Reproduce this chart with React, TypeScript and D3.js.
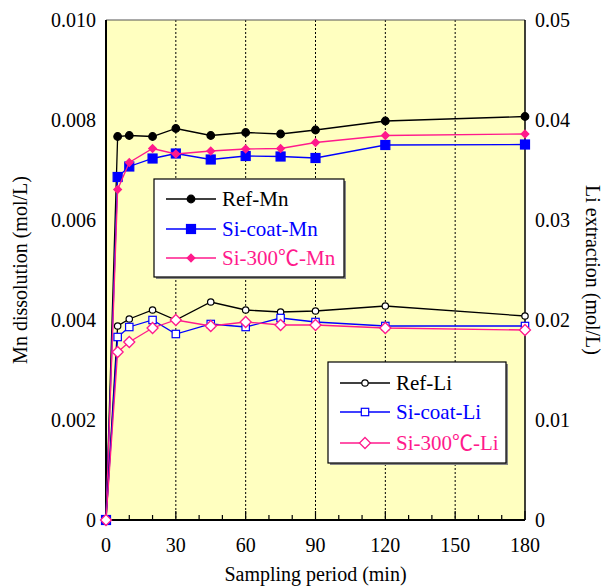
import React, { useEffect, useRef } from "react";
import * as d3 from "d3";

// sampling times (min)
const times = [0, 5, 10, 20, 30, 45, 60, 75, 90, 120, 180];

// Mn dissolution (mol/L), left axis
const refMn = [0, 0.00767, 0.00769, 0.00767, 0.00783, 0.00769, 0.00775, 0.00772, 0.0078, 0.00798, 0.00807];
const coatMn = [0, 0.00686, 0.00707, 0.00723, 0.00733, 0.00721, 0.00728, 0.00727, 0.00724, 0.0075, 0.00751];
const heatMn = [0, 0.00661, 0.00715, 0.00743, 0.00732, 0.00738, 0.00742, 0.00743, 0.00755, 0.00769, 0.00772];

// Li extraction (mol/L), right axis
const refLi = [0, 0.0194, 0.0201, 0.021, 0.0200, 0.0218, 0.021, 0.0208, 0.0209, 0.0214, 0.0204];
const coatLi = [0, 0.0183, 0.0193, 0.0200, 0.0186, 0.0196, 0.0193, 0.0202, 0.0198, 0.0194, 0.0194];
const heatLi = [0, 0.0168, 0.0178, 0.0192, 0.0200, 0.0194, 0.0198, 0.0195, 0.0195, 0.0192, 0.019];

const xTicks = [0, 30, 60, 90, 120, 150, 180];
const mnTicks = [0, 0.002, 0.004, 0.006, 0.008, 0.01];
const liTicks = [0, 0.01, 0.02, 0.03, 0.04, 0.05];

const BLACK = "#000000";
const BLUE = "#0000ff";
const PINK = "#ff1a8c";
const FONT = "'Liberation Serif', 'Times New Roman', serif";
const LEGEND_FONT = "'Liberation Serif', 'Noto Sans CJK JP', serif";

export default function App() {
  const ref = useRef<SVGSVGElement>(null);

  useEffect(() => {
    const svg = d3.select(ref.current);
    svg.selectAll("*").remove();

    const left = 106, right = 525, top = 20, bottom = 520;

    const x = d3.scaleLinear().domain([0, 180]).range([left, right]);
    const yMn = d3.scaleLinear().domain([0, 0.01]).range([bottom, top]);
    const yLi = d3.scaleLinear().domain([0, 0.05]).range([bottom, top]);

    // plot background
    svg.append("rect")
      .attr("x", left).attr("y", top)
      .attr("width", right - left).attr("height", bottom - top)
      .attr("fill", "#ffffc0");

    // vertical dashed grid
    svg.append("g").selectAll("line")
      .data(xTicks.slice(1, -1))
      .join("line")
      .attr("x1", d => x(d)).attr("x2", d => x(d))
      .attr("y1", top).attr("y2", bottom)
      .attr("stroke", "#000").attr("stroke-width", 1)
      .attr("stroke-dasharray", "2,2");

    // border + axes
    svg.append("line").attr("x1", left).attr("x2", right).attr("y1", top).attr("y2", top)
      .attr("stroke", "#555").attr("stroke-width", 1.2);
    svg.append("line").attr("x1", right).attr("x2", right).attr("y1", top).attr("y2", bottom)
      .attr("stroke", "#000").attr("stroke-width", 1.5);
    svg.append("line").attr("x1", left).attr("x2", left).attr("y1", top).attr("y2", bottom)
      .attr("stroke", "#000").attr("stroke-width", 2);
    svg.append("line").attr("x1", left).attr("x2", right).attr("y1", bottom).attr("y2", bottom)
      .attr("stroke", "#000").attr("stroke-width", 2);

    // x ticks (inward)
    svg.append("g").selectAll("line")
      .data(d3.range(0, 181, 10))
      .join("line")
      .attr("x1", d => x(d)).attr("x2", d => x(d))
      .attr("y1", bottom)
      .attr("y2", d => bottom - (d % 30 === 0 ? 9 : 5))
      .attr("stroke", "#000").attr("stroke-width", 1.2);

    // tick labels
    svg.append("g").selectAll("text")
      .data(xTicks)
      .join("text")
      .attr("x", d => x(d)).attr("y", 552)
      .attr("text-anchor", "middle")
      .attr("font-family", FONT).attr("font-size", 20)
      .text(d => d);

    svg.append("g").selectAll("text")
      .data(mnTicks)
      .join("text")
      .attr("x", left - 10).attr("y", d => yMn(d) + 7)
      .attr("text-anchor", "end")
      .attr("font-family", FONT).attr("font-size", 20)
      .text(d => (d === 0 ? "0" : d.toFixed(3)));

    svg.append("g").selectAll("text")
      .data(liTicks)
      .join("text")
      .attr("x", right + 10).attr("y", d => yLi(d) + 7)
      .attr("text-anchor", "start")
      .attr("font-family", FONT).attr("font-size", 20)
      .text(d => (d === 0 ? "0" : d.toFixed(2)));

    // axis titles
    svg.append("text")
      .attr("x", (left + right) / 2).attr("y", 581)
      .attr("text-anchor", "middle")
      .attr("font-family", FONT).attr("font-size", 20)
      .text("Sampling period (min)");

    svg.append("text")
      .attr("transform", `translate(27, ${(top + bottom) / 2}) rotate(-90)`)
      .attr("text-anchor", "middle")
      .attr("font-family", FONT).attr("font-size", 20)
      .text("Mn dissolution (mol/L)");

    svg.append("text")
      .attr("transform", `translate(586, ${(top + bottom) / 2}) rotate(90)`)
      .attr("text-anchor", "middle")
      .attr("font-family", FONT).attr("font-size", 20)
      .text("Li extraction (mol/L)");

    const series = [
      { name: "Ref-Mn", vals: refMn, y: yMn, color: BLACK, marker: "circle", filled: true },
      { name: "Si-coat-Mn", vals: coatMn, y: yMn, color: BLUE, marker: "square", filled: true },
      { name: "Si-300℃-Mn", vals: heatMn, y: yMn, color: PINK, marker: "diamond", filled: true },
      { name: "Ref-Li", vals: refLi, y: yLi, color: BLACK, marker: "circle", filled: false },
      { name: "Si-coat-Li", vals: coatLi, y: yLi, color: BLUE, marker: "square", filled: false },
      { name: "Si-300℃-Li", vals: heatLi, y: yLi, color: PINK, marker: "diamond", filled: false },
    ];

    const drawMarker = (g: any, s: any, cx: number, cy: number) => {
      const fill = s.filled ? s.color : "#fff";
      if (s.marker === "circle") {
        g.append("circle").attr("cx", cx).attr("cy", cy)
          .attr("r", s.filled ? 3.8 : 3.2)
          .attr("fill", fill).attr("stroke", s.color).attr("stroke-width", 1.2);
      } else if (s.marker === "square") {
        const h = s.filled ? 4.5 : 3.7;
        g.append("rect").attr("x", cx - h).attr("y", cy - h)
          .attr("width", 2 * h).attr("height", 2 * h)
          .attr("fill", fill).attr("stroke", s.color).attr("stroke-width", 1.2);
      } else {
        const h = s.filled ? 3.8 : 5.5;
        g.append("path")
          .attr("d", `M${cx},${cy - h}L${cx + h},${cy}L${cx},${cy + h}L${cx - h},${cy}Z`)
          .attr("fill", fill).attr("stroke", s.color).attr("stroke-width", 1.3);
      }
    };

    const line = d3.line<number>();

    series.forEach(s => {
      const pts: [number, number][] = times.map((t, i) => [x(t), s.y(s.vals[i])]);
      svg.append("path")
        .attr("d", line(pts as any))
        .attr("fill", "none")
        .attr("stroke", s.color)
        .attr("stroke-width", 1.3);
      const g = svg.append("g");
      pts.forEach(p => drawMarker(g, s, p[0], p[1]));
    });

    // legends
    const legend = (items: any[], bx: number, by: number, bw: number, bh: number, rowY: number[], lx: number) => {
      svg.append("rect").attr("x", bx + 2).attr("y", by + 2)
        .attr("width", bw).attr("height", bh).attr("fill", "#888");
      svg.append("rect").attr("x", bx).attr("y", by)
        .attr("width", bw).attr("height", bh)
        .attr("fill", "#fff").attr("stroke", "#000").attr("stroke-width", 1.2);
      const g = svg.append("g");
      items.forEach((s, i) => {
        const yy = rowY[i];
        g.append("line").attr("x1", lx).attr("x2", lx + 50)
          .attr("y1", yy).attr("y2", yy)
          .attr("stroke", s.color).attr("stroke-width", 1.3);
        drawMarker(g, s, lx + 25, yy);
        g.append("text")
          .attr("x", lx + 56).attr("y", yy + 7)
          .attr("font-family", LEGEND_FONT).attr("font-size", 21)
          .attr("fill", s.color)
          .text(s.name);
      });
    };

    legend(series.slice(0, 3), 154, 179, 190, 98, [199, 229, 258], 166);
    legend(series.slice(3), 328, 362, 178, 101, [383, 412, 443], 340);
  }, []);

  return (
    <svg ref={ref} width={613} height={587}
      style={{ position: "absolute", left: 0, top: 0, background: "#fff" }} />
  );
}
